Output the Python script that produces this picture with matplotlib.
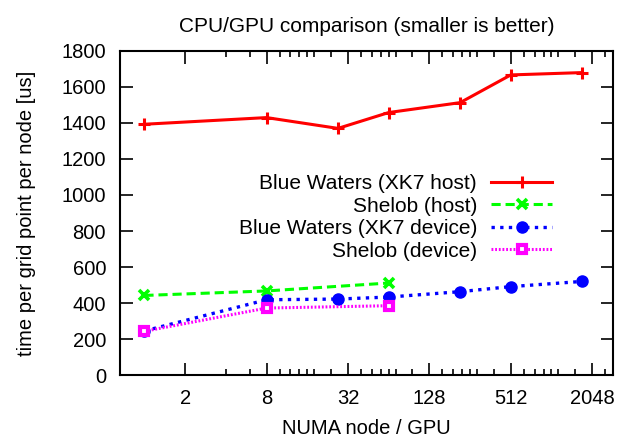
import matplotlib
matplotlib.use("Agg")
import matplotlib.pyplot as plt
from matplotlib.ticker import FixedLocator, NullFormatter

plt.rcParams["font.family"] = ["Liberation Sans", "DejaVu Sans"]

# node / GPU counts (cubes) and timings [us]
nodes_bw = [1, 8, 27, 64, 216, 512, 1728]
nodes_shelob = [1, 8, 64]
bw_host = [1393, 1430, 1370, 1458, 1513, 1667, 1680]
shelob_host = [442, 467, 511]
bw_device = [245, 418, 422, 433, 463, 491, 520]
shelob_device = [243, 372, 385]

major_ticks = [2, 8, 32, 128, 512, 2048]
minor_ticks = [4, 6, 10, 12, 14, 16, 18, 24, 40, 48, 56, 64, 72, 96,
               160, 192, 224, 256, 288, 384, 640, 768, 896, 1024, 1152,
               1536, 2560]

FS = 14.5

fig = plt.figure(figsize=(6.29, 4.38), dpi=100)
ax = fig.add_axes([0.1908, 0.1438, 0.7838, 0.7398])

ax.plot(nodes_bw, bw_host, color="#ff0000", lw=2.2, marker="+", ms=8,
        mew=2.2, label="Blue Waters (XK7 host)")
ax.plot(nodes_shelob, shelob_host, color="#00ff00", lw=2.2, ls=(0, (3, 1.6)),
        marker="x", ms=6.5, mew=2.6, label="Shelob (host)")
ax.plot(nodes_bw, bw_device, color="#0000ff", lw=2.4, ls=(0, (1, 1.6)),
        marker="o", ms=8, label="Blue Waters (XK7 device)")
ax.plot(nodes_shelob, shelob_device, color="#ff00ff", lw=2.2,
        ls=(0, (0.6, 0.6)), marker="s", ms=6, mew=3, mfc="white",
        mec="#ff00ff", label="Shelob (device)")

ax.set_xscale("log", base=2)
ax.set_xlim(0.66, 2920)
ax.set_ylim(0, 1800)
ax.xaxis.set_major_locator(FixedLocator(major_ticks))
ax.xaxis.set_minor_locator(FixedLocator(minor_ticks))
ax.xaxis.set_minor_formatter(NullFormatter())
ax.set_xticklabels([str(t) for t in major_ticks])
ax.set_yticks(range(0, 1801, 200))

ax.tick_params(which="both", direction="in", top=True, right=True,
               labelsize=FS, width=1.2)
ax.tick_params(axis="x", which="major", length=9, pad=10)
ax.tick_params(axis="y", which="major", length=9, pad=10)
ax.tick_params(which="minor", length=4.5)
for s in ax.spines.values():
    s.set_linewidth(1.5)

ax.set_xlabel("NUMA node / GPU", fontsize=FS, labelpad=8)
ax.set_ylabel("time per grid point per node [us]", fontsize=FS, labelpad=18)
ax.set_title("CPU/GPU comparison (smaller is better)", fontsize=15, pad=14)

ax.legend(loc="upper right", bbox_to_anchor=(0.876, 0.62), frameon=False,
          markerfirst=False, fontsize=15, handlelength=2.9,
          handletextpad=0.7, labelspacing=0.17, borderpad=0,
          borderaxespad=0, numpoints=1)

fig.savefig("out.png", facecolor="white")
